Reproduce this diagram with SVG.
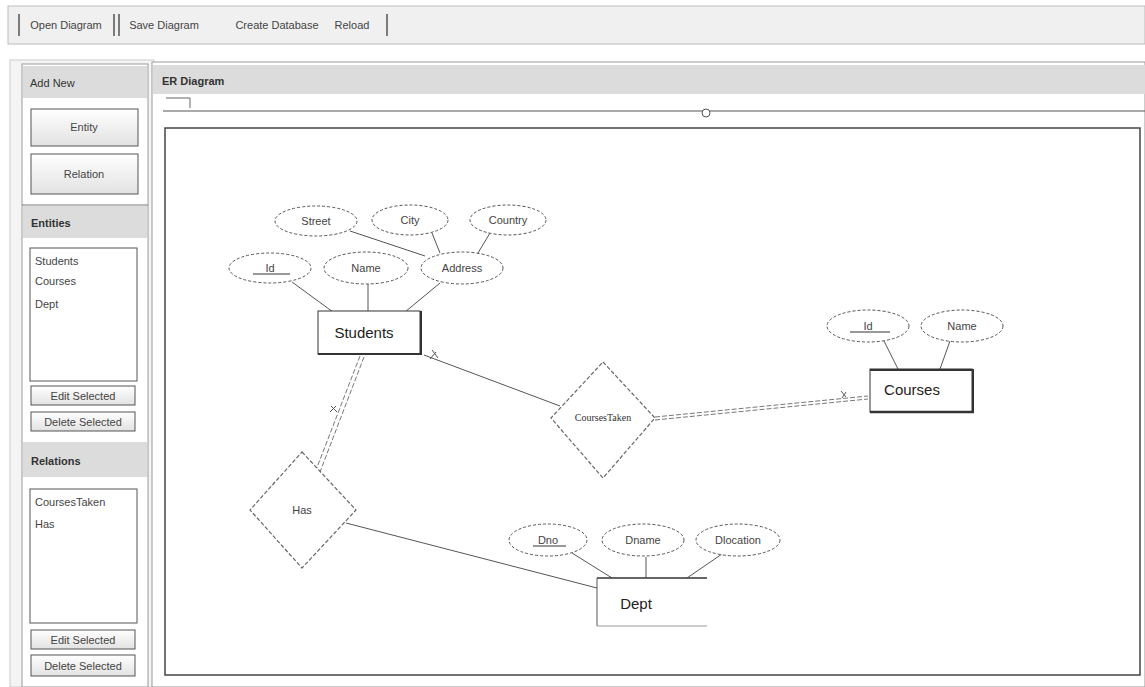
<svg xmlns="http://www.w3.org/2000/svg" width="1145" height="687" viewBox="0 0 1145 687">
  <defs>
    <style>
      .ui { font-family: "Liberation Sans", Arial, sans-serif; font-size: 11px; fill: #444; }
      .hdr { font-family: "Liberation Sans", Arial, sans-serif; font-size: 11px; font-weight: bold; fill: #333; }
      .hdr.plain { font-weight: normal; }
      .btn { fill: url(#btnGrad); stroke: #555; stroke-width: 1; }
      .panelhdr { fill: #dcdcdc; }
      .attr { fill: #fff; stroke: #555; stroke-width: 1; stroke-dasharray: 3 2; }
      .atxt { font-family: "Liberation Sans", Arial, sans-serif; font-size: 11px; fill: #444; text-anchor: middle; }
      .ent { fill: #fff; stroke: #333; stroke-width: 1; }
      .etxt { font-family: "Liberation Sans", Arial, sans-serif; font-size: 15px; fill: #222; text-anchor: middle; }
      .rel { fill: #fff; stroke: #666; stroke-width: 1.2; stroke-dasharray: 4 2; }
      .rtxt { font-family: "Liberation Serif", "Times New Roman", serif; font-size: 10px; fill: #333; text-anchor: middle; }
      .link { stroke: #555; stroke-width: 1; fill: none; }
      .dbl { stroke: #777; stroke-width: 1; fill: none; stroke-dasharray: 5 2; }
    </style>
    <linearGradient id="btnGrad" x1="0" y1="0" x2="0" y2="1">
      <stop offset="0" stop-color="#ffffff"/>
      <stop offset="1" stop-color="#e2e2e2"/>
    </linearGradient>
  </defs>

  <rect x="0" y="0" width="1145" height="687" fill="#ffffff"/>

  <!-- toolbar -->
  <g id="toolbar">
    <rect x="8" y="6" width="1137" height="38" fill="#f0f0f0" stroke="#bbb"/>
    <line x1="19" y1="14" x2="19" y2="36" stroke="#555" stroke-width="1.5"/>
    <line x1="114" y1="14" x2="114" y2="36" stroke="#555" stroke-width="1.5"/>
    <line x1="119" y1="14" x2="119" y2="36" stroke="#555" stroke-width="1.5"/>
    <line x1="387" y1="14" x2="387" y2="36" stroke="#555" stroke-width="1.5"/>
    <text class="ui" x="66" y="29" text-anchor="middle">Open Diagram</text>
    <text class="ui" x="164" y="29" text-anchor="middle">Save Diagram</text>
    <text class="ui" x="277" y="29" text-anchor="middle">Create Database</text>
    <text class="ui" x="352" y="29" text-anchor="middle">Reload</text>
  </g>

  <!-- left side panel -->
  <g id="sidepanel">
    <rect x="10" y="60" width="144" height="627" fill="#f4f4f4" stroke="#ccc"/>
    <rect x="22" y="64" width="126" height="623" fill="#fff" stroke="#999"/>
    <rect x="23" y="66" width="124" height="32" class="panelhdr"/>
    <text class="hdr plain" x="30" y="87">Add New</text>
    <rect class="btn" x="31" y="109" width="107" height="37"/>
    <text class="ui" x="84" y="131" text-anchor="middle">Entity</text>
    <rect class="btn" x="31" y="154" width="107" height="40"/>
    <text class="ui" x="84" y="178" text-anchor="middle">Relation</text>

    <rect x="23" y="206" width="124" height="32" class="panelhdr"/>
    <line x1="22" y1="205" x2="148" y2="205" stroke="#777"/>
    <text class="hdr" x="31" y="227">Entities</text>
    <rect x="30" y="248" width="107" height="133" fill="#fff" stroke="#555"/>
    <text class="ui" x="35" y="265">Students</text>
    <text class="ui" x="35" y="285">Courses</text>
    <text class="ui" x="35" y="308">Dept</text>
    <rect class="btn" x="31" y="386" width="104" height="19"/>
    <text class="ui" x="83" y="400" text-anchor="middle">Edit Selected</text>
    <rect class="btn" x="31" y="412" width="104" height="19"/>
    <text class="ui" x="83" y="426" text-anchor="middle">Delete Selected</text>

    <rect x="23" y="442" width="124" height="35" class="panelhdr"/>
    <text class="hdr" x="31" y="465">Relations</text>
    <rect x="30" y="489" width="107" height="134" fill="#fff" stroke="#555"/>
    <text class="ui" x="35" y="506">CoursesTaken</text>
    <text class="ui" x="35" y="528">Has</text>
    <rect class="btn" x="31" y="630" width="104" height="19"/>
    <text class="ui" x="83" y="644" text-anchor="middle">Edit Selected</text>
    <rect class="btn" x="31" y="655" width="104" height="21"/>
    <text class="ui" x="83" y="670" text-anchor="middle">Delete Selected</text>
  </g>

  <!-- main diagram panel -->
  <g id="mainpanel">
    <rect x="152" y="62" width="993" height="625" fill="#fff" stroke="#999"/>
    <rect x="153" y="65" width="992" height="29" class="panelhdr"/>
    <text class="hdr" x="162" y="85">ER Diagram</text>
    <!-- zoom slider -->
    <path d="M166 98 L190 98 L190 108" fill="none" stroke="#666"/>
    <line x1="163" y1="111" x2="1145" y2="111" stroke="#555" stroke-width="1.2"/>
    <circle cx="706" cy="113" r="4" fill="#fff" stroke="#555"/>
    <!-- drawing canvas -->
    <rect x="165" y="128" width="975" height="547" fill="#fff" stroke="#444" stroke-width="1.5"/>
  </g>

  <!-- connectors -->
  <g id="connectors">
    <!-- Students attributes -->
    <line class="link" x1="292" y1="282" x2="333" y2="312"/>
    <line class="link" x1="368" y1="284" x2="368" y2="312"/>
    <line class="link" x1="440" y1="283" x2="405" y2="312"/>
    <line class="link" x1="350" y1="231" x2="425" y2="256"/>
    <line class="link" x1="432" y1="233" x2="440" y2="253"/>
    <line class="link" x1="490" y1="233" x2="478" y2="253"/>
    <!-- Courses attributes -->
    <line class="link" x1="884" y1="341" x2="898" y2="369"/>
    <line class="link" x1="950" y1="341" x2="940" y2="369"/>
    <!-- Dept attributes -->
    <line class="link" x1="572" y1="553" x2="612" y2="578"/>
    <line class="link" x1="646" y1="557" x2="646" y2="578"/>
    <line class="link" x1="722" y1="554" x2="687" y2="578"/>
    <!-- Students - CoursesTaken -->
    <line class="link" x1="560" y1="406" x2="424" y2="355" stroke-width="1.2"/>
    <path class="link" d="M432 350 L438 358 M436 352 L430 359" stroke="#999"/>
    <!-- CoursesTaken - Courses (total participation) -->
    <line class="dbl" x1="655" y1="417" x2="868" y2="396"/>
    <line class="dbl" x1="655" y1="420" x2="868" y2="399"/>
    <path class="link" d="M841 391 L846 397 M846 392 L842 398" stroke="#999"/>
    <!-- Students - Has (total participation) -->
    <line class="dbl" x1="360" y1="356" x2="316" y2="470"/>
    <line class="dbl" x1="364" y1="357" x2="320" y2="472"/>
    <path class="link" d="M331 406 L337 412 M330 412 L336 406" stroke="#999"/>
    <!-- Has - Dept -->
    <line class="link" x1="346" y1="523" x2="597" y2="588" stroke="#777" stroke-width="1.5"/>
  </g>

  <!-- Students entity -->
  <g id="students">
    <rect class="ent" x="318" y="311" width="102" height="43"/>
    <line x1="318" y1="354" x2="422" y2="354" stroke="#333" stroke-width="2"/>
    <line x1="421" y1="311" x2="421" y2="355" stroke="#333" stroke-width="2"/>
    <text class="etxt" x="364" y="338">Students</text>
  </g>
  <g id="students-street">
    <ellipse class="attr" cx="316" cy="221" rx="41" ry="15"/>
    <text class="atxt" x="316" y="225">Street</text>
  </g>
  <g id="students-city">
    <ellipse class="attr" cx="410" cy="220" rx="38" ry="15"/>
    <text class="atxt" x="410" y="224">City</text>
  </g>
  <g id="students-country">
    <ellipse class="attr" cx="508" cy="220" rx="38" ry="15"/>
    <text class="atxt" x="508" y="224">Country</text>
  </g>
  <g id="students-id">
    <ellipse class="attr" cx="270" cy="268" rx="41" ry="15"/>
    <text class="atxt" x="270" y="272">Id</text>
    <line x1="253" y1="274" x2="290" y2="274" stroke="#333"/>
  </g>
  <g id="students-name">
    <ellipse class="attr" cx="366" cy="268" rx="42" ry="16"/>
    <text class="atxt" x="366" y="272">Name</text>
  </g>
  <g id="students-address">
    <ellipse class="attr" cx="462" cy="268" rx="41" ry="16"/>
    <text class="atxt" x="462" y="272">Address</text>
  </g>

  <!-- Courses entity -->
  <g id="courses">
    <rect class="ent" x="870" y="369" width="102" height="43"/>
    <line x1="870" y1="370" x2="972" y2="370" stroke="#333" stroke-width="2"/>
    <line x1="870" y1="412" x2="974" y2="412" stroke="#333" stroke-width="2.5"/>
    <line x1="973" y1="369" x2="973" y2="413" stroke="#333" stroke-width="2"/>
    <text class="etxt" x="912" y="395" font-size="13">Courses</text>
  </g>
  <g id="courses-id">
    <ellipse class="attr" cx="868" cy="326" rx="41" ry="16"/>
    <text class="atxt" x="868" y="330">Id</text>
    <line x1="850" y1="332" x2="890" y2="332" stroke="#333"/>
  </g>
  <g id="courses-name">
    <ellipse class="attr" cx="962" cy="326" rx="41" ry="16"/>
    <text class="atxt" x="962" y="330">Name</text>
  </g>

  <!-- Dept entity -->
  <g id="dept">
    <rect x="597" y="578" width="110" height="48" fill="#fff"/>
    <line x1="597" y1="578" x2="707" y2="578" stroke="#333" stroke-width="1.5"/>
    <line x1="597" y1="578" x2="597" y2="626" stroke="#555"/>
    <line x1="597" y1="626" x2="707" y2="626" stroke="#999"/>
    <text class="etxt" x="636" y="609" font-size="17">Dept</text>
  </g>
  <g id="dept-dno">
    <ellipse class="attr" cx="548" cy="540" rx="39" ry="16"/>
    <text class="atxt" x="548" y="544">Dno</text>
    <line x1="533" y1="546" x2="566" y2="546" stroke="#333"/>
  </g>
  <g id="dept-dname">
    <ellipse class="attr" cx="643" cy="540" rx="41" ry="16"/>
    <text class="atxt" x="643" y="544">Dname</text>
  </g>
  <g id="dept-dlocation">
    <ellipse class="attr" cx="738" cy="540" rx="42" ry="16"/>
    <text class="atxt" x="738" y="544">Dlocation</text>
  </g>

  <!-- relationships -->
  <g id="coursestaken">
    <polygon class="rel" points="603,362 655,418 603,478 551,418"/>
    <text class="rtxt" x="603" y="421">CoursesTaken</text>
  </g>
  <g id="has">
    <polygon class="rel" points="302,452 356,510 302,568 250,510"/>
    <text class="atxt" x="302" y="514">Has</text>
  </g>
</svg>
